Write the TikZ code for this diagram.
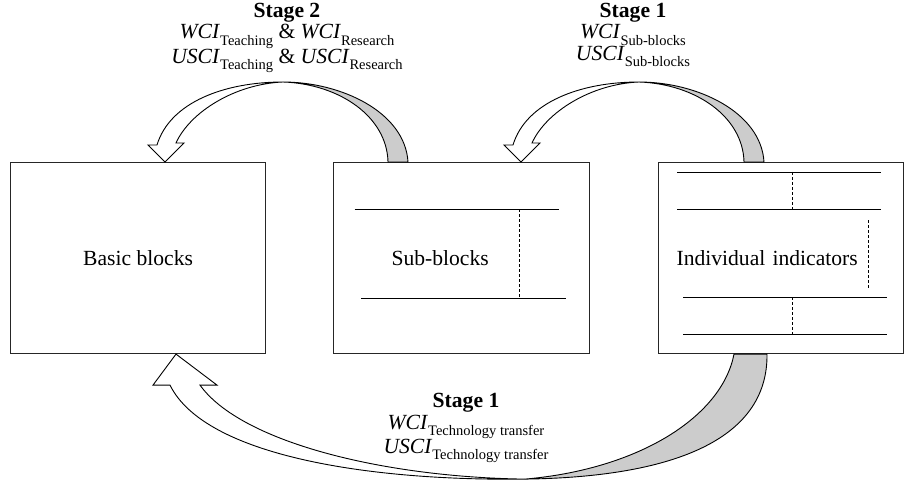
\documentclass[tikz,border=0pt]{standalone}
\usepackage{fontspec}
\setmainfont{Liberation Serif}
\usetikzlibrary{calc}
\newcommand{\lsub}[1]{\raisebox{-0.28em}{\fontsize{14.5}{15}\selectfont #1}}
\newcommand{\ital}[1]{\textit{#1}\/}
\begin{document}
\begin{tikzpicture}[x=1pt,y=-1pt,
  box/.style={draw=black!85,line width=1.1pt,anchor=north west,
    font=\fontsize{21.6}{24}\selectfont,inner sep=0pt},
  rule/.style={draw=black,line width=0.9pt},
  dashrule/.style={draw=black,line width=0.9pt,dash pattern=on 3pt off 2pt},
  lbl/.style={align=center,font=\fontsize{21.6}{21.5}\selectfont,inner sep=0pt,anchor=north},
  arrfront/.style={draw=black,line width=0.9pt,fill=white,line join=miter},
  arrback/.style={draw=black,line width=0.9pt,fill=black!20,line join=miter}]
\useasboundingbox (0,0) rectangle (904,481);

% boxes
\node[box,minimum width=255pt,minimum height=191pt] (basic) at (10,162) {Basic blocks};
\node[box,minimum width=256pt,minimum height=191pt,text width=230pt,align=left] (sub) at (333,162) {\hspace*{45pt}Sub-blocks};
\node[box,minimum width=245pt,minimum height=191pt,text width=225pt,align=left] (ind) at (658,162) {\hspace*{8pt}Individual indicators};

% sub-blocks inner rules
\draw[rule] (354.5,209) -- (559,209);
\draw[rule] (361,298) -- (566,298);
\draw[dashrule] (519,209) -- (519,298);

% individual indicators inner rules
\draw[rule] (677,172) -- (881,172);
\draw[rule] (677,209) -- (881,209);
\draw[dashrule] (792,172) -- (792,209);
\draw[dashrule] (868,220) -- (868,288);
\draw[rule] (683,297) -- (887,297);
\draw[rule] (683,334) -- (887,334);
\draw[dashrule] (792,297) -- (792,334);

% arrow anchors
\coordinate (tipA) at ($(basic.north west)+(155,0)$);
\coordinate (tipB) at ($(sub.north west)+(188,0)$);
\coordinate (tipC) at ($(basic.south west)+(166,0)$);

% Stage 2 arrow (sub -> basic)
\begin{scope}[shift={(tipA)}]
  \draw[arrback] (118,-80) .. controls (176,-80) and (240,-50) .. (243,0)
     -- (223,0) .. controls (222,-45) and (175,-78) .. (118,-80) -- cycle;
  \draw[arrfront] (-8,-17) .. controls (5,-60) and (60,-80) .. (118,-80)
     .. controls (70,-78) and (25,-50) .. (11,-19)
     -- (19,-19) -- (0,0) -- (-17,-17) -- cycle;
\end{scope}

% Stage 1 arrow (ind -> sub)
\begin{scope}[shift={(tipB)}]
  \draw[arrback] (118,-80) .. controls (176,-80) and (240,-50) .. (243,0)
     -- (223,0) .. controls (222,-45) and (175,-78) .. (118,-80) -- cycle;
  \draw[arrfront] (-8,-17) .. controls (5,-60) and (60,-80) .. (118,-80)
     .. controls (70,-78) and (25,-50) .. (11,-19)
     -- (19,-19) -- (0,0) -- (-17,-17) -- cycle;
\end{scope}

% Stage 1 bottom arrow (ind -> basic)
\begin{scope}[shift={(tipC)}]
  \draw[arrback] (349,125) .. controls (494,123) and (592,87) .. (591,0)
     -- (558,0) .. controls (546,62) and (464,115) .. (349,125) -- cycle;
  \draw[arrfront] (-6,31) .. controls (29,102) and (194,127) .. (349,125)
     .. controls (204,123) and (64,87) .. (24,31)
     -- (41,31) -- (0,0) -- (-23,31) -- cycle;
\end{scope}

% labels
\node[lbl] (lab2) at (287,3) {\textbf{Stage 2}\\
  \ital{WCI}\lsub{Teaching} \& \ital{WCI}\lsub{Research}\\
  \ital{USCI}\lsub{Teaching} \& \ital{USCI}\lsub{Research}};
\node[lbl] (lab1) at (633,3) {\textbf{Stage 1}\\
  \ital{WCI}\lsub{Sub-blocks}\\
  \ital{USCI}\lsub{Sub-blocks}};
\node[lbl] (lab3) at (466,393) {\textbf{Stage 1}\\
  \ital{WCI}\lsub{Technology transfer}\\
  \ital{USCI}\lsub{Technology transfer}};
\end{tikzpicture}
\end{document}
